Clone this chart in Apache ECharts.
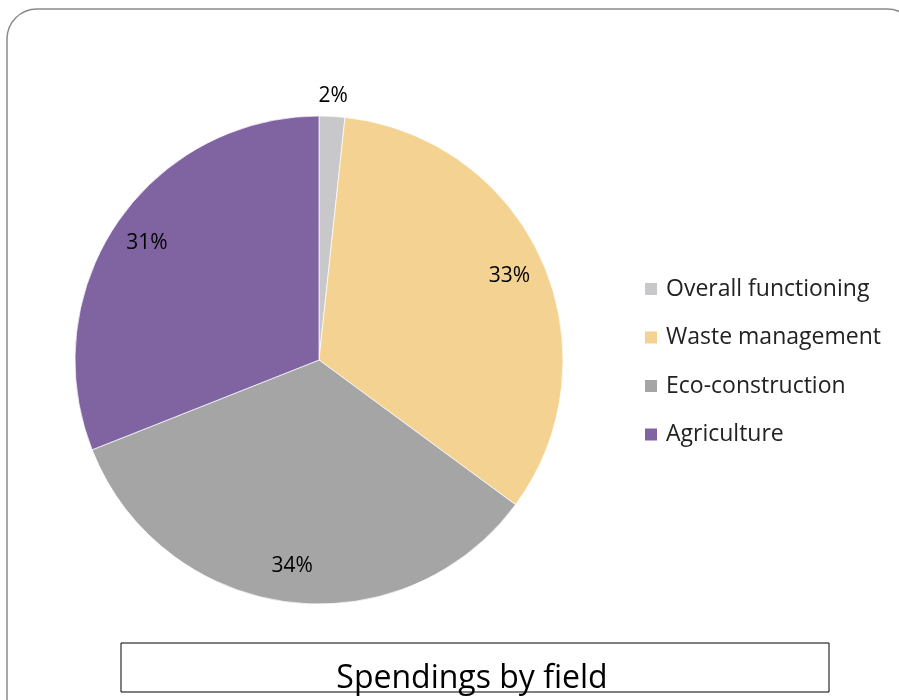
<!DOCTYPE html>
<html>
<head>
<meta charset="utf-8">
<script src="https://cdn.jsdelivr.net/npm/echarts@6/dist/echarts.min.js"></script>
<style>
  html, body { margin: 0; padding: 0; background: #fff; }
  #chart { width: 899px; height: 700px; }
</style>
</head>
<body>
<div id="chart"></div>
<script>
const fields = ['Overall functioning', 'Waste management', 'Eco-construction', 'Agriculture']
const shares = [1.7, 33.4, 33.9, 31.0]
const colors = ['#c8c8ca', '#f3d292', '#a5a5a5', '#8064a2']

const FONT = 'Open Sans'
const R = 244
const center = [319, 360]

let myChart = echarts.init(document.getElementById('chart'))

let pieData = fields.map((f, i) => ({ value: shares[i], name: f, itemStyle: { color: colors[i] } }))

// transparent rings only used to place the % labels
let innerLabels = fields.map((f, i) => ({
  value: shares[i], name: f,
  label: { show: i !== 0 }
}))
let outerLabels = fields.map((f, i) => ({
  value: shares[i], name: f,
  label: { show: i === 0 }
}))

const labelStyle = {
  position: 'inside',
  formatter: p => Math.round(p.percent) + '%',
  fontFamily: FONT,
  fontSize: 21,
  color: '#000'
}

let option = {
  animation: false,
  graphic: [
    {
      type: 'rect',
      shape: { x: 7, y: 9, width: 910, height: 720, r: 30 },
      style: { fill: 'none', stroke: '#8a8a8a', lineWidth: 1.5 },
      z: -1
    },
    {
      type: 'rect',
      shape: { x: 121, y: 643, width: 708, height: 49 },
      style: { fill: 'none', stroke: '#000', lineWidth: 1 }
    }
  ],
  title: {
    text: 'Spendings by field',
    left: 467,
    top: 658,
    textAlign: 'center',
    textStyle: { fontFamily: FONT, fontSize: 32, fontWeight: 'normal', color: '#000' }
  },
  legend: {
    orient: 'vertical',
    left: 643,
    top: 276,
    padding: 0,
    icon: 'rect',
    itemWidth: 14,
    itemHeight: 14,
    itemGap: 22.5,
    data: fields,
    selectedMode: false,
    textStyle: { fontFamily: FONT, fontSize: 23, lineHeight: 26, color: '#222', padding: [0, 0, 0, 3] }
  },
  series: [
    {
      type: 'pie',
      center: center,
      radius: [0, R],
      startAngle: 90,
      clockwise: true,
      silent: true,
      label: { show: false },
      labelLine: { show: false },
      itemStyle: { borderColor: '#fff', borderWidth: 0.7 },
      data: pieData
    },
    {
      type: 'pie',
      center: center,
      radius: [R * 0.68, R],
      startAngle: 90,
      silent: true,
      itemStyle: { color: 'transparent' },
      label: labelStyle,
      labelLine: { show: false },
      data: innerLabels
    },
    {
      type: 'pie',
      center: center,
      radius: [R, R + 34],
      startAngle: 90,
      silent: true,
      itemStyle: { color: 'transparent' },
      label: labelStyle,
      labelLine: { show: false },
      data: outerLabels
    }
  ]
}
myChart.setOption(option)
</script>
</body>
</html>
